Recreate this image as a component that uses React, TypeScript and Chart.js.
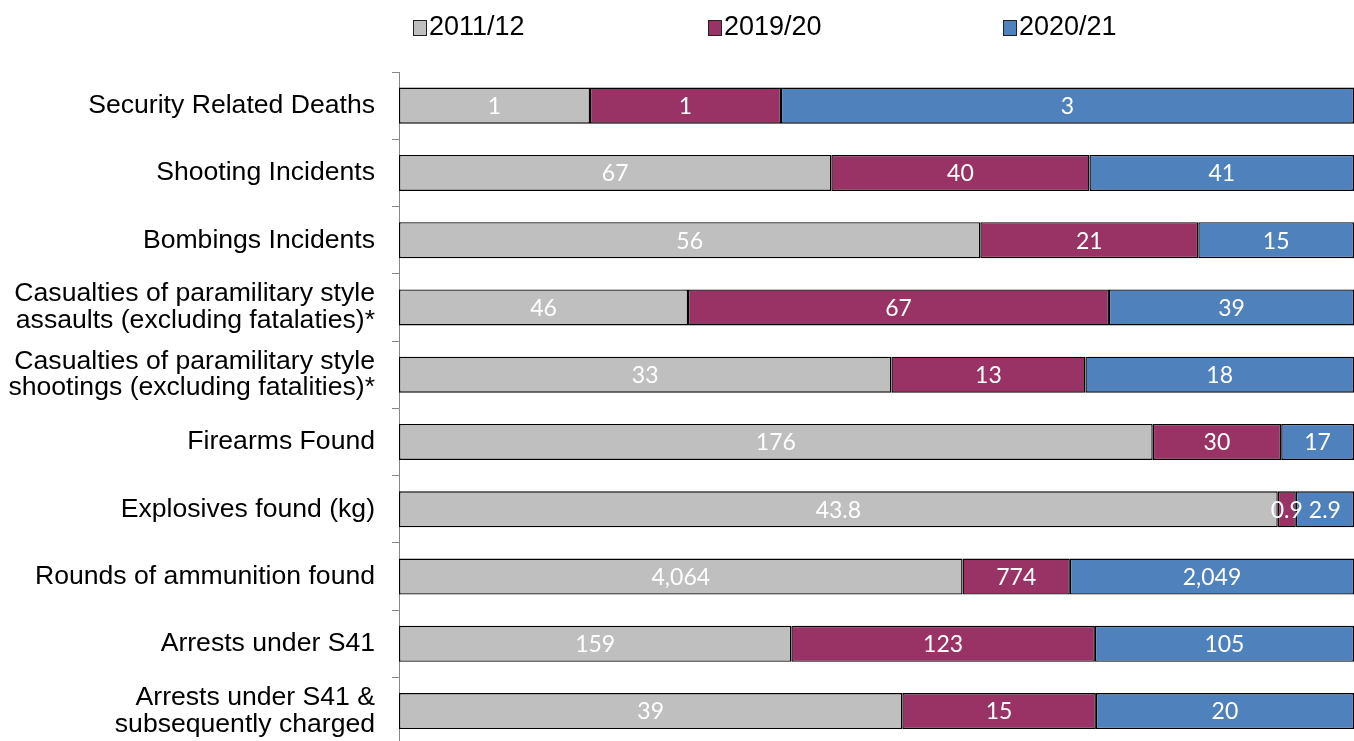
import React, { useEffect, useRef } from "react";
import { Chart, registerables } from "chart.js";

Chart.register(...registerables);

const categories: (string | string[])[] = [
  "Security Related Deaths",
  "Shooting Incidents",
  "Bombings Incidents",
  ["Casualties of paramilitary style", "assaults (excluding fatalaties)*"],
  ["Casualties of paramilitary style", "shootings (excluding fatalities)*"],
  "Firearms Found",
  "Explosives found (kg)",
  "Rounds of ammunition found",
  "Arrests under S41",
  ["Arrests under S41 &", "subsequently charged"],
];

const seriesNames = ["2011/12", "2019/20", "2020/21"];
const values2011 = [1, 67, 56, 46, 33, 176, 43.8, 4064, 159, 39];
const values2019 = [1, 40, 21, 67, 13, 30, 0.9, 774, 123, 15];
const values2021 = [3, 41, 15, 39, 18, 17, 2.9, 2049, 105, 20];
const seriesColors = ["#BFBFBF", "#993366", "#4F81BD"];

const rawSeries = [values2011, values2019, values2021];
const totals = categories.map((_, i) => rawSeries.reduce((s, arr) => s + arr[i], 0));
const pctSeries = rawSeries.map((arr) => arr.map((v, i) => (v / totals[i]) * 100));

const fmt = (v: number) =>
  Number.isInteger(v) ? v.toLocaleString("en-US") : v.toFixed(1);

const legendX = [413, 708, 1003];

const labelPlugin = {
  id: "valueLabels",
  afterDatasetsDraw(chart: any) {
    const ctx = chart.ctx;
    ctx.save();
    ctx.fillStyle = "#FFFFFF";
    ctx.font = "23px Lato, 'Open Sans', sans-serif";
    ctx.textAlign = "center";
    ctx.textBaseline = "middle";
    chart.data.datasets.forEach((ds: any, di: number) => {
      const meta = chart.getDatasetMeta(di);
      meta.data.forEach((el: any, i: number) => {
        const cx = (el.x + el.base) / 2;
        ctx.fillText(fmt(rawSeries[di][i]), cx, el.y + 1);
      });
    });
    ctx.restore();
  },
};

const legendPlugin = {
  id: "customLegend",
  afterDraw(chart: any) {
    const ctx = chart.ctx;
    ctx.save();
    ctx.font = "27px 'Liberation Sans', Arial, sans-serif";
    ctx.textBaseline = "middle";
    ctx.textAlign = "left";
    seriesNames.forEach((name, i) => {
      const x = legendX[i];
      ctx.fillStyle = seriesColors[i];
      ctx.fillRect(x, 20, 13, 15);
      ctx.strokeStyle = "#222";
      ctx.lineWidth = 1;
      ctx.strokeRect(x + 0.5, 20.5, 13, 15);
      ctx.fillStyle = "#000";
      ctx.fillText(name, x + 16, 28);
    });
    ctx.restore();
  },
};

export default function App() {
  const ref = useRef<HTMLCanvasElement>(null);
  useEffect(() => {
    document.body.style.margin = "0";
    document.body.style.overflow = "hidden";
    const chart = new Chart(ref.current as HTMLCanvasElement, {
      type: "bar",
      data: {
        labels: categories,
        datasets: seriesNames.map((name, i) => ({
          label: name,
          data: pctSeries[i],
          backgroundColor: seriesColors[i],
          borderColor: "#000000",
          borderWidth: 1.4,
          borderSkipped: false,
          barPercentage: 0.536,
          categoryPercentage: 1,
        })),
      },
      options: {
        indexAxis: "y",
        responsive: false,
        animation: false,
        events: [],
        layout: { padding: { top: 72, bottom: 16, left: 0, right: 0 } },
        plugins: {
          legend: { display: false },
          tooltip: { enabled: false },
          title: { display: false },
        },
        scales: {
          x: { display: false, stacked: true, min: 0, max: 100 },
          y: {
            stacked: true,
            afterFit: (scale: any) => {
              scale.width = 399;
            },
            border: { display: true, color: "#868686", width: 1 },
            grid: {
              offset: true,
              drawOnChartArea: false,
              drawTicks: true,
              tickLength: 7,
              color: "#868686",
            },
            ticks: {
              padding: 17,
              color: "#000",
              font: { family: "'Liberation Sans', Arial, sans-serif", size: 26.6, lineHeight: 1.0 },
            },
          },
        },
      },
      plugins: [labelPlugin, legendPlugin],
    });
    return () => chart.destroy();
  }, []);
  return (
    <div style={{ width: 1354, height: 741, overflow: "hidden", background: "#fff" }}>
      <canvas ref={ref} width={1354} height={775} style={{ display: "block" }} />
    </div>
  );
}
